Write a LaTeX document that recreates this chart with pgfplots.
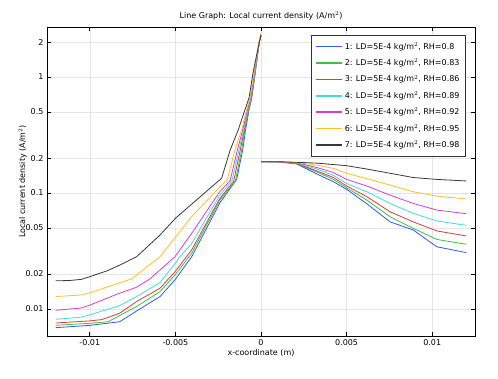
\documentclass[border=0pt]{standalone}
\usepackage{pgfplots}
\pgfplotsset{compat=1.18}
\usepackage{fontspec}
\setmainfont{DejaVu Sans}
\definecolor{cblue}{HTML}{2E5BF0}
\definecolor{cgreen}{HTML}{40C040}
\definecolor{cred}{HTML}{E03A3A}
\definecolor{ccyan}{HTML}{40DCDC}
\definecolor{cmag}{HTML}{D040D8}
\definecolor{cyel}{HTML}{FFC020}
\definecolor{cblack}{HTML}{383838}
\pgfplotsset{
  every axis legend/.append style={draw=black!80, line width=1pt, fill=white},
}
\begin{document}
\begin{tikzpicture}
\begin{axis}[
  at={(0pt,0pt)}, anchor=south west,
  scale only axis, width=428pt, height=309pt,
  xmin=-0.0125, xmax=0.0125,
  ymode=log, ymin=0.00585, ymax=2.70,
  xtick={-0.01,-0.005,0,0.005,0.01},
  xticklabels={-0.01,-0.005,0,0.005,0.01},
  scaled x ticks=false,
  ytick={0.01,0.02,0.05,0.1,0.2,0.5,1,2},
  yticklabels={0.01,0.02,0.05,0.1,0.2,0.5,1,2},
  minor ytick={},
  tick align=inside, major tick length=4pt,
  tick style={black, line width=0.6pt},
  axis line style={black, line width=0.9pt},
  grid=major, major grid style={color=black!10, line width=0.5pt},
  font=\fontsize{8}{9.6}\selectfont,
  tick label style={font=\fontsize{8}{9.6}\selectfont},
  /pgf/number format/assume math mode=true,
  title={Line Graph: Local current density (A/m$^2$)},
  title style={yshift=-3pt},
  xlabel={x-coordinate (m)},
  ylabel={Local current density (A/m$^2$)},
  xlabel style={yshift=3pt},
  ylabel style={yshift=-8pt},
  legend style={at={(1,1)}, anchor=north east, xshift=-9pt, yshift=-8pt,
    row sep=4.2pt, inner xsep=4pt, inner ysep=5pt,
    font=\fontsize{8}{9.6}\selectfont},
  legend cell align=left,
  legend image code/.code={\draw[#1, line width=1.6pt] (0pt,0pt) -- (26pt,0pt);},
]
% ---- left branch
\addplot[color=cblue, line width=0.8pt] coordinates {(-0.012,0.0069)(-0.0100,0.00723)(-0.00825,0.00777)(-0.00727,0.0096)(-0.0059,0.0128)(-0.00503,0.0178)(-0.00405,0.0282)(-0.0024,0.0823)(-0.00142,0.131)(-0.00107,0.235)(-0.0009,0.35)(-0.0007,0.52)(-0.00054,0.66)(-0.00033,1.1)(-0.0001,2.0)(0,2.3)};
\addlegendentry{1: LD=5E-4 kg/m$^2$, RH=0.8}
\addplot[color=cgreen, line width=0.8pt] coordinates {(-0.012,0.00723)(-0.0100,0.00753)(-0.00893,0.00777)(-0.00727,0.0105)(-0.0059,0.0141)(-0.00503,0.0196)(-0.00405,0.0302)(-0.0024,0.0869)(-0.0015,0.127)(-0.00113,0.235)(-0.00094,0.35)(-0.00072,0.52)(-0.00055,0.66)(-0.00034,1.1)(-0.0001,2.0)(0,2.3)};
\addlegendentry{2: LD=5E-4 kg/m$^2$, RH=0.83}
\addplot[color=cred, line width=0.8pt] coordinates {(-0.012,0.00757)(-0.0100,0.0079)(-0.0093,0.0081)(-0.00825,0.0092)(-0.00727,0.0116)(-0.0059,0.0151)(-0.00503,0.0209)(-0.00405,0.0323)(-0.0024,0.0899)(-0.0016,0.126)(-0.00121,0.235)(-0.00098,0.35)(-0.00074,0.52)(-0.00056,0.66)(-0.00035,1.1)(-0.0001,2.0)(0,2.3)};
\addlegendentry{3: LD=5E-4 kg/m$^2$, RH=0.86}
\addplot[color=ccyan, line width=0.8pt] coordinates {(-0.012,0.00815)(-0.0105,0.0085)(-0.0100,0.0089)(-0.0090,0.0099)(-0.00825,0.0107)(-0.00727,0.0128)(-0.0059,0.0169)(-0.00503,0.0245)(-0.00474,0.0282)(-0.00405,0.0367)(-0.0024,0.096)(-0.0017,0.127)(-0.00129,0.235)(-0.00101,0.35)(-0.00076,0.52)(-0.00058,0.66)(-0.00036,1.1)(-0.0001,2.0)(0,2.3)};
\addlegendentry{4: LD=5E-4 kg/m$^2$, RH=0.89}
\addplot[color=cmag, line width=0.8pt] coordinates {(-0.012,0.00975)(-0.0105,0.0102)(-0.0100,0.0108)(-0.00825,0.0137)(-0.00727,0.0154)(-0.0065,0.0181)(-0.00503,0.0282)(-0.00405,0.0449)(-0.0024,0.103)(-0.0018,0.128)(-0.00138,0.235)(-0.00107,0.35)(-0.0008,0.52)(-0.0006,0.66)(-0.00038,1.1)(-0.00011,2.0)(0,2.3)};
\addlegendentry{5: LD=5E-4 kg/m$^2$, RH=0.92}
\addplot[color=cyel, line width=0.8pt] coordinates {(-0.012,0.0128)(-0.0105,0.0132)(-0.0100,0.0138)(-0.00825,0.0168)(-0.00756,0.0182)(-0.0059,0.0282)(-0.00503,0.041)(-0.00405,0.0624)(-0.0024,0.113)(-0.00197,0.130)(-0.00152,0.235)(-0.00113,0.35)(-0.00084,0.52)(-0.00064,0.66)(-0.0004,1.1)(-0.00012,2.0)(0,2.4)};
\addlegendentry{6: LD=5E-4 kg/m$^2$, RH=0.95}
\addplot[color=cblack, line width=0.8pt] coordinates {(-0.012,0.0175)(-0.0112,0.0176)(-0.0105,0.0180)(-0.0100,0.0190)(-0.0090,0.0213)(-0.00825,0.0239)(-0.00727,0.0282)(-0.0059,0.0434)(-0.0050,0.0605)(-0.0040,0.0813)(-0.0023,0.134)(-0.0018,0.235)(-0.00133,0.35)(-0.00094,0.52)(-0.0007,0.66)(-0.00045,1.12)(-0.0001,2.0)(0,2.3)};
\addlegendentry{7: LD=5E-4 kg/m$^2$, RH=0.98}
% ---- right branch
\addplot[color=cblue, line width=0.8pt, forget plot] coordinates {(0,0.186)(0.001,0.185)(0.00209,0.178)(0.00326,0.146)(0.00423,0.125)(0.005,0.1076)(0.00618,0.0808)(0.00754,0.0564)(0.00889,0.048)(0.01027,0.0344)(0.012,0.0306)};
\addplot[color=cgreen, line width=0.8pt, forget plot] coordinates {(0,0.186)(0.001,0.186)(0.00209,0.179)(0.00326,0.152)(0.00423,0.131)(0.005,0.111)(0.00618,0.0869)(0.00754,0.0624)(0.00889,0.0496)(0.01027,0.0398)(0.012,0.0361)};
\addplot[color=cred, line width=0.8pt, forget plot] coordinates {(0,0.186)(0.001,0.186)(0.00209,0.180)(0.00326,0.155)(0.00423,0.136)(0.005,0.115)(0.00618,0.0929)(0.00754,0.0689)(0.00889,0.0564)(0.01027,0.0471)(0.012,0.0426)};
\addplot[color=ccyan, line width=0.8pt, forget plot] coordinates {(0,0.186)(0.001,0.186)(0.00209,0.181)(0.00326,0.161)(0.00423,0.142)(0.005,0.121)(0.00618,0.1025)(0.00754,0.0813)(0.00889,0.0668)(0.01027,0.0574)(0.012,0.0526)};
\addplot[color=cmag, line width=0.8pt, forget plot] coordinates {(0,0.186)(0.001,0.186)(0.00209,0.182)(0.00326,0.166)(0.00423,0.150)(0.005,0.131)(0.00618,0.115)(0.00754,0.0958)(0.00889,0.0813)(0.01027,0.0713)(0.012,0.0663)};
\addplot[color=cyel, line width=0.8pt, forget plot] coordinates {(0,0.186)(0.001,0.186)(0.00209,0.183)(0.00326,0.174)(0.00423,0.163)(0.005,0.148)(0.00618,0.133)(0.00754,0.117)(0.00889,0.1025)(0.01027,0.094)(0.012,0.0888)};
\addplot[color=cblack, line width=0.8pt, forget plot] coordinates {(0,0.186)(0.001,0.186)(0.00209,0.184)(0.00326,0.181)(0.00423,0.176)(0.005,0.172)(0.00618,0.161)(0.00754,0.148)(0.00889,0.136)(0.01027,0.131)(0.012,0.127)};
\end{axis}
\useasboundingbox (-47pt,-42pt) rectangle (451pt,336pt);
\end{tikzpicture}
\end{document}
